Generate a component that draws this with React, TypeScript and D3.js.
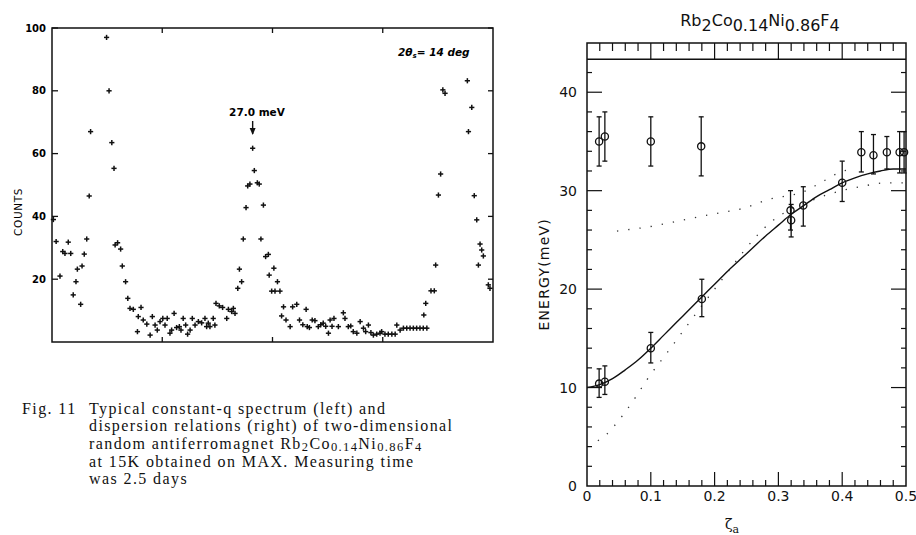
import React, { useEffect, useRef } from 'react';
import * as d3 from 'd3';

// ---- left panel: constant-q scan, [channel, counts]
const spectrum: [number, number][] = [
  [0.5, 39], [1.5, 32], [2.9, 21], [3.9, 28.8], [4.7, 28.2], [5.9, 31.8], [6.8, 28.2], [7.7, 15],
  [8.7, 19.2], [9.2, 23.2], [10.4, 12], [10.9, 24.2], [11.7, 28], [12.6, 32.8], [13.5, 46.5], [14, 67],
  [19.8, 97], [20.7, 80], [21.7, 63.5], [22.5, 55.3], [22.9, 30.9], [23.8, 31.6], [24.9, 29.6], [25.5, 24.2],
  [26.7, 19.2], [27.5, 13.9], [28.3, 10.7], [29.5, 10.4], [31, 3.3], [31.3, 8.1], [32.3, 11], [33.1, 7],
  [34.4, 5.7], [35.6, 2.2], [36.4, 8.1], [37.4, 5.4], [38.2, 3.8], [39.2, 6.5], [40.2, 7.5], [41, 5.4],
  [41.8, 7.5], [42.8, 2.8], [43.4, 3.8], [44.3, 9.1], [45.2, 4.6], [46.2, 4.9], [46.8, 3.8], [47.6, 7.5],
  [48.5, 5.4], [49.2, 2.5], [50.1, 3.8], [50.9, 7.5], [51.9, 5.4], [53.1, 6.5], [54.3, 6.1], [55.5, 7.5],
  [56.1, 4.9], [56.7, 6], [57.3, 4.9], [58.5, 7.5], [59.1, 5.4], [59.5, 12.3], [60.7, 11.5], [61.9, 11],
  [63.4, 7.5], [64, 10.4], [65.2, 9.7], [65.8, 10.7], [66.4, 9.1], [67.4, 17.1], [68, 23.2], [68.8, 19.2],
  [69.4, 32.8], [70.4, 42.8], [71, 49.7], [71.8, 50.3], [72.8, 61.7], [73.4, 54.6], [74.5, 50.7], [75.2, 50.3],
  [75.8, 32.8], [76.7, 43.6], [77.5, 27.2], [78.5, 27.9], [78.8, 21.3], [79.7, 16.2], [80.5, 23.5], [80.9, 16.2],
  [81.8, 19.2], [82.7, 16.2], [83.3, 8.3], [84, 11.2], [84.9, 7], [86.4, 4.9], [87.3, 11.2], [88.8, 12],
  [89.8, 7], [91, 5.5], [92.2, 10.4], [92.6, 4.9], [93.4, 4.6], [94.4, 7], [95.4, 6.8], [96.6, 4.9],
  [97.5, 5.5], [98.4, 6], [99.3, 5], [100.3, 2.8], [100.9, 7], [101.6, 5], [102.3, 7.5], [103.9, 4.9],
  [105.7, 9.3], [106.3, 7.5], [107.5, 4.9], [108.4, 5.1], [109.3, 3.3], [110.6, 2.8], [111.8, 6.5], [113, 4.4],
  [113.8, 3.3], [114.8, 5.4], [115.7, 3], [116.6, 2.2], [117.8, 2.5], [119, 2.8], [119.6, 3.3], [120.8, 2.5],
  [122, 2.5], [123.3, 2.5], [124.5, 2.5], [125.1, 5.4], [126.3, 3.8], [127.5, 4.4], [128.7, 4.4], [129.9, 4.4],
  [131.1, 4.4], [132.3, 4.4], [133.5, 4.4], [134.7, 4.4], [134.9, 8.6], [135.6, 12.3], [136, 4.4], [137.5, 16.3],
  [138.7, 16.3], [139.2, 24.5], [140.2, 46.8], [141, 53.5], [141.8, 80.3], [142.6, 79.2], [150.7, 83.2], [151.1, 67],
  [152.3, 74.7], [153.2, 46.6], [154.1, 38.9], [154.7, 24.5], [155.3, 31.2], [155.9, 29.3], [156.5, 27.4], [158.3, 18.2],
  [158.9, 17.1],
];
const countTicks = [20, 40, 60, 80, 100];
const channelTicks = [40, 80, 120];

// ---- right panel: dispersion, measured points [zeta, E, errLow, errHigh]
const upperBranch: [number, number, number, number][] = [
  [0.019, 35.0, 32.5, 37.5], [0.028, 35.5, 33.0, 38.0], [0.1, 35.0, 32.5, 37.5], [0.179, 34.5, 31.5, 37.5],
  [0.43, 33.9, 31.9, 36.0], [0.449, 33.6, 31.7, 35.7], [0.47, 33.9, 32.2, 35.5], [0.49, 33.9, 31.8, 36.0],
  [0.497, 33.9, 31.8, 36.0],
];
const lowerBranch: [number, number, number, number][] = [
  [0.019, 10.4, 9.0, 11.9], [0.028, 10.6, 9.3, 12.2], [0.1, 14.0, 12.5, 15.6], [0.18, 19.0, 17.2, 21.0],
  [0.319, 28.0, 26.0, 30.0], [0.32, 27.0, 25.3, 28.6], [0.339, 28.5, 26.4, 30.4], [0.4, 30.8, 28.9, 33.0],
];
const fitCurve: [number, number][] = [
  [0, 10.0], [0.02, 10.3], [0.04, 10.9], [0.06, 11.8], [0.08, 12.8], [0.1, 14.0], [0.12, 15.3], [0.14, 16.6],
  [0.16, 17.9], [0.18, 19.2], [0.2, 20.5], [0.22, 21.8], [0.24, 23.0], [0.26, 24.2], [0.28, 25.4], [0.3, 26.5],
  [0.32, 27.6], [0.34, 28.5], [0.36, 29.4], [0.38, 30.1], [0.4, 30.8], [0.42, 31.3], [0.44, 31.7], [0.46, 32.0],
  [0.48, 32.2], [0.5, 32.2],
];
const dottedUpper: [number, number][] = [
  [0.047, 25.9], [0.094, 26.3], [0.172, 27.3], [0.204, 27.7], [0.25, 28.3], [0.279, 29.0], [0.347, 30.1],
  [0.363, 30.7], [0.377, 31.2], [0.391, 31.7], [0.42, 32.3],
];
const dottedLower: [number, number][] = [
  [0.017, 4.6], [0.03, 5.2], [0.04, 5.9], [0.078, 9.2], [0.094, 10.8], [0.124, 13.4], [0.2, 20.0], [0.29, 26.9],
  [0.36, 29.2], [0.436, 30.5], [0.468, 30.8], [0.5, 30.8],
];
const zetaTicks = [0, 0.1, 0.2, 0.3, 0.4, 0.5];
const energyTicks = [0, 10, 20, 30, 40];
const energyLimit = 43.35;

const captionLines = [
  'Typical constant-q spectrum (left) and',
  'dispersion relations (right) of two-dimensional',
  'random antiferromagnet ',
  'at 15K obtained on MAX. Measuring time',
  'was 2.5 days',
];
const formula: [string, boolean][] = [
  ['Rb', false], ['2', true], ['Co', false], ['0.14', true], ['Ni', false], ['0.86', true], ['F', false], ['4', true],
];

export default function App() {
  const svgRef = useRef<SVGSVGElement>(null);

  useEffect(() => {
    const svg = d3.select(svgRef.current);
    svg.selectAll('*').remove();
    const ink = '#111';

    // ===== left panel =====
    const L = { x0: 52, x1: 493, y0: 342, y1: 28 };
    const cx = d3.scaleLinear().domain([0, 160]).range([L.x0, L.x1]);
    const cy = d3.scaleLinear().domain([0, 100]).range([L.y0, L.y1]);
    const left = svg.append('g');

    left.append('rect')
      .attr('x', L.x0).attr('y', L.y1)
      .attr('width', L.x1 - L.x0).attr('height', L.y0 - L.y1)
      .attr('fill', 'none').attr('stroke', ink).attr('stroke-width', 1.5);

    countTicks.forEach(t => {
      left.append('line').attr('x1', L.x0).attr('x2', L.x0 + 6)
        .attr('y1', cy(t)).attr('y2', cy(t)).attr('stroke', ink).attr('stroke-width', 1.3);
      left.append('line').attr('x1', L.x1).attr('x2', L.x1 - 5)
        .attr('y1', cy(t)).attr('y2', cy(t)).attr('stroke', ink).attr('stroke-width', 1.3);
      left.append('text').attr('x', L.x0 - 6).attr('y', cy(t)).attr('dy', '0.35em')
        .attr('text-anchor', 'end').style('font', 'bold 10px "DejaVu Sans"').text(t);
    });
    channelTicks.forEach(t => {
      left.append('line').attr('x1', cx(t)).attr('x2', cx(t))
        .attr('y1', L.y1).attr('y2', L.y1 + 5).attr('stroke', ink).attr('stroke-width', 1.3);
      left.append('line').attr('x1', cx(t)).attr('x2', cx(t))
        .attr('y1', L.y0).attr('y2', L.y0 - 5).attr('stroke', ink).attr('stroke-width', 1.3);
    });

    left.append('text')
      .attr('transform', 'translate(22,212) rotate(-90)')
      .attr('text-anchor', 'middle')
      .style('font', '10.5px "DejaVu Sans"').attr('letter-spacing', 0.6)
      .text('COUNTS');

    const plus = left.selectAll('.pt').data(spectrum).enter().append('g')
      .attr('transform', d => `translate(${cx(d[0])},${cy(d[1])})`);
    plus.append('line').attr('x1', -2.6).attr('x2', 2.6).attr('stroke', ink).attr('stroke-width', 1.5);
    plus.append('line').attr('y1', -2.6).attr('y2', 2.6).attr('stroke', ink).attr('stroke-width', 1.5);

    // peak annotation
    left.append('text').attr('x', 257).attr('y', 116).attr('text-anchor', 'middle')
      .style('font', 'bold 10.5px "DejaVu Sans"').text('27.0 meV');
    left.append('line').attr('x1', cx(72.8)).attr('x2', cx(72.8)).attr('y1', 121).attr('y2', 134)
      .attr('stroke', ink).attr('stroke-width', 1.4);
    left.append('path')
      .attr('d', `M${cx(72.8) - 3},128 L${cx(72.8)},135 L${cx(72.8) + 3},128 Z`).attr('fill', ink);

    const ang = left.append('text').attr('x', 398).attr('y', 56)
      .style('font', 'bold italic 10.5px "DejaVu Sans"');
    ang.append('tspan').text('2θ');
    ang.append('tspan').attr('dy', 2).style('font-size', '7px').text('s');
    ang.append('tspan').attr('dy', -2).text('= 14 deg');

    // caption
    const cap = svg.append('g').style('font', '16px "Liberation Serif"').attr('letter-spacing', 1.4).attr('fill', ink);
    cap.append('text').attr('x', 22).attr('y', 414).text('Fig. 11');
    captionLines.forEach((line, i) => {
      const t = cap.append('text').attr('x', 89).attr('y', 414 + i * 17.3 + (i > 2 ? 1 : 0)).text(line);
      if (i === 2) {
        let sub = false;
        formula.forEach(([s, isSub]) => {
          const dy = isSub === sub ? 0 : (isSub ? 2 : -2);
          t.append('tspan').attr('dy', dy).style('font-size', isSub ? '12.5px' : '16px').text(s);
          sub = isSub;
        });
      }
    });

    // ===== right panel =====
    const R = { x0: 587, x1: 906, y0: 486, y1: 43 };
    const zx = d3.scaleLinear().domain([0, 0.5]).range([R.x0, R.x1]);
    const ey = d3.scaleLinear().domain([0, 45]).range([R.y0, R.y1]);
    const right = svg.append('g');

    right.append('rect')
      .attr('x', R.x0).attr('y', R.y1)
      .attr('width', R.x1 - R.x0).attr('height', R.y0 - R.y1)
      .attr('fill', 'none').attr('stroke', ink).attr('stroke-width', 1.5);
    right.append('line').attr('x1', R.x0).attr('x2', R.x1)
      .attr('y1', ey(energyLimit)).attr('y2', ey(energyLimit)).attr('stroke', ink).attr('stroke-width', 1.3);

    // minor + major ticks
    d3.range(0.02, 0.5, 0.02).forEach(v => {
      const major = zetaTicks.some(t => Math.abs(t - v) < 1e-6);
      right.append('line').attr('x1', zx(v)).attr('x2', zx(v))
        .attr('y1', R.y0).attr('y2', R.y0 - (major ? 14 : 6)).attr('stroke', ink).attr('stroke-width', 1.2);
      right.append('line').attr('x1', zx(v)).attr('x2', zx(v))
        .attr('y1', R.y1).attr('y2', major ? ey(energyLimit) : R.y1 + 8).attr('stroke', ink).attr('stroke-width', 1.2);
    });
    d3.range(2, 44, 2).forEach(v => {
      const major = v % 10 === 0;
      right.append('line').attr('x1', R.x0).attr('x2', R.x0 + (major ? 15 : 5))
        .attr('y1', ey(v)).attr('y2', ey(v)).attr('stroke', ink).attr('stroke-width', 1.2);
      right.append('line').attr('x1', R.x1).attr('x2', R.x1 - (major ? 15 : 5))
        .attr('y1', ey(v)).attr('y2', ey(v)).attr('stroke', ink).attr('stroke-width', 1.2);
    });

    energyTicks.forEach(t => {
      right.append('text').attr('x', 577).attr('y', ey(t)).attr('dy', '0.36em')
        .attr('text-anchor', 'end').style('font', '14px "DejaVu Sans"').attr('fill', ink).text(t);
    });
    zetaTicks.forEach(t => {
      right.append('text').attr('x', zx(t)).attr('y', 501)
        .attr('text-anchor', 'middle').style('font', '14px "DejaVu Sans"').attr('fill', ink)
        .text(t === 0 ? '0' : d3.format('.1f')(t));
    });

    right.append('text')
      .attr('transform', `translate(549,${ey(21.5)}) rotate(-90)`)
      .attr('text-anchor', 'middle')
      .style('font', '14px "DejaVu Sans"').attr('letter-spacing', 1.2).attr('fill', ink)
      .text('ENERGY(meV)');

    const zl = right.append('text').attr('x', 725).attr('y', 529).style('font', '14px "DejaVu Serif"').attr('fill', ink);
    zl.append('tspan').text('ζ');
    zl.append('tspan').attr('dy', 4).style('font-size', '11px').text('a');

    const ttl = right.append('text').attr('x', 760).attr('y', 26).attr('text-anchor', 'middle')
      .style('font', '16px "DejaVu Sans"').attr('fill', ink);
    let lowered = false;
    formula.forEach(([s, isSub]) => {
      const dy = isSub === lowered ? 0 : (isSub ? 5 : -5);
      ttl.append('tspan').attr('dy', dy).text(s);
      lowered = isSub;
    });

    // dotted model curves
    const dline = d3.line<[number, number]>().x(d => zx(d[0])).y(d => ey(d[1])).curve(d3.curveMonotoneX);
    [dottedUpper, dottedLower].forEach(pts => {
      right.append('path').attr('d', dline(pts)).attr('fill', 'none')
        .attr('stroke', '#333').attr('stroke-width', 1.3).attr('stroke-dasharray', '1.3 10');
    });

    // solid fit
    right.append('path').attr('d', dline(fitCurve)).attr('fill', 'none')
      .attr('stroke', ink).attr('stroke-width', 1.4);

    // measured points with error bars
    [...upperBranch, ...lowerBranch].forEach(([z, e, lo, hi]) => {
      const g = right.append('g');
      g.append('line').attr('x1', zx(z)).attr('x2', zx(z)).attr('y1', ey(lo)).attr('y2', ey(hi))
        .attr('stroke', ink).attr('stroke-width', 1.3);
      [lo, hi].forEach(v => g.append('line').attr('x1', zx(z) - 2.5).attr('x2', zx(z) + 2.5)
        .attr('y1', ey(v)).attr('y2', ey(v)).attr('stroke', ink).attr('stroke-width', 1.3));
      g.append('circle').attr('cx', zx(z)).attr('cy', ey(e)).attr('r', 3.6)
        .attr('fill', 'none').attr('stroke', ink).attr('stroke-width', 1.3);
    });
  }, []);

  return (
    <svg
      ref={svgRef}
      width={916}
      height={535}
      style={{ position: 'absolute', left: 0, top: 0, background: '#fff' }}
    />
  );
}
